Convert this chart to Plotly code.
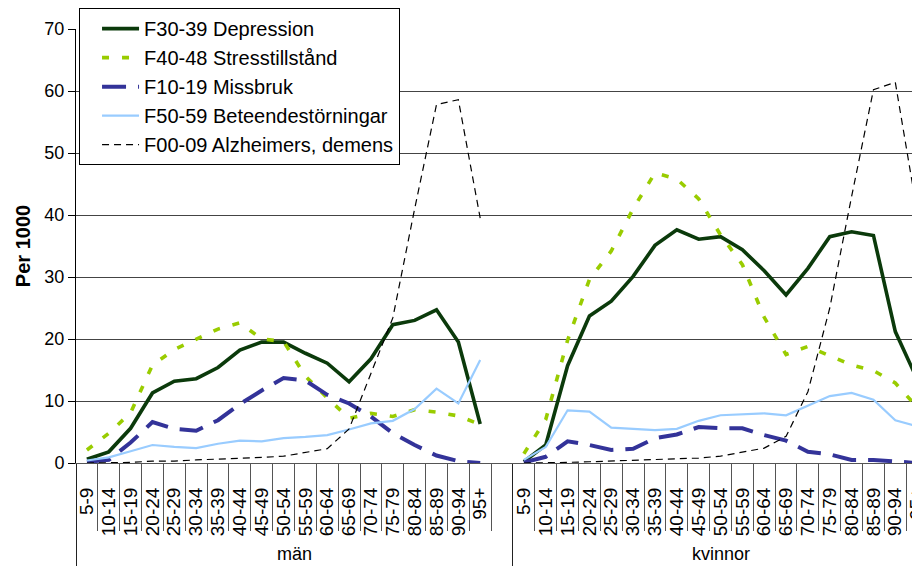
import plotly.graph_objects as go

age_groups = ["5-9", "10-14", "15-19", "20-24", "25-29", "30-34", "35-39", "40-44",
              "45-49", "50-54", "55-59", "60-64", "65-69", "70-74", "75-79", "80-84",
              "85-89", "90-94", "95+"]
sex_groups = ["män", "kvinnor"]

series_names = ["F30-39 Depression", "F40-48 Stresstillstånd", "F10-19 Missbruk",
                "F50-59 Beteendestörningar", "F00-09 Alzheimers, demens"]

men_depression = [0.6, 1.8, 5.6, 11.3, 13.2, 13.6, 15.4, 18.2, 19.5, 19.5, 17.7, 16.1,
                  13.1, 16.8, 22.3, 23.0, 24.7, 19.5, 6.3]
women_depression = [0.2, 2.9, 15.7, 23.7, 26.1, 30.1, 35.1, 37.6, 36.1, 36.5, 34.4, 31.0,
                    27.1, 31.4, 36.5, 37.3, 36.7, 21.2, 13.5]

men_stress = [2.1, 4.8, 8.1, 15.8, 18.3, 20.0, 21.6, 22.6, 20.0, 19.6, 14.0, 10.5,
              7.2, 8.0, 7.5, 8.6, 8.2, 7.6, 6.2]
women_stress = [1.5, 7.0, 19.8, 29.6, 34.2, 41.0, 46.8, 45.8, 42.6, 36.8, 32.0, 23.5,
                17.5, 18.8, 17.3, 15.8, 14.9, 12.9, 9.0]

men_missbruk = [0.2, 0.5, 3.3, 6.6, 5.5, 5.2, 6.9, 9.5, 11.7, 13.7, 13.3, 11.0,
                9.6, 7.5, 4.8, 2.9, 1.2, 0.3, 0.0]
women_missbruk = [0.1, 1.0, 3.5, 2.9, 2.1, 2.3, 4.0, 4.6, 5.8, 5.6, 5.6, 4.5,
                  3.6, 1.8, 1.4, 0.5, 0.5, 0.2, 0.0]

men_beteende = [0.4, 0.9, 1.9, 2.9, 2.6, 2.4, 3.1, 3.6, 3.5, 4.0, 4.2, 4.5,
                5.4, 6.4, 6.8, 8.7, 12.0, 9.6, 16.6]
women_beteende = [0.5, 2.6, 8.5, 8.3, 5.7, 5.5, 5.3, 5.5, 6.8, 7.7, 7.9, 8.0,
                  7.7, 9.2, 10.8, 11.3, 10.2, 6.9, 5.9]

men_alzheimer = [0.0, 0.05, 0.1, 0.3, 0.3, 0.5, 0.6, 0.8, 0.9, 1.1, 1.7, 2.3,
                 5.5, 14.5, 23.4, 41.0, 57.8, 58.6, 39.5]
women_alzheimer = [0.0, 0.0, 0.1, 0.2, 0.3, 0.4, 0.5, 0.6, 0.8, 1.1, 1.7, 2.4,
                   4.3, 11.5, 25.0, 43.0, 60.2, 61.4, 40.5]

# ---- build x positions: men slots, one empty slot, women slots ----
n = len(age_groups)
men_x = list(range(n))
women_x = [n + 1 + i for i in range(n)]
x_all = men_x + [n] + women_x
tick_vals = men_x + women_x
tick_text = age_groups + age_groups
boundaries = [v - 0.5 for v in range(2 * n + 2)]
group_bounds = [-0.5, n + 0.5]
x_max = 38.13

def joined(m, w):
    return m + [None] + w

styles = [
    dict(color="#0b3a0b", width=3.6, dash="solid"),
    dict(color="#99cc00", width=3.6, dash="7px,13px"),
    dict(color="#333399", width=4.0, dash="24px,12px"),
    dict(color="#99ccff", width=2.2, dash="solid"),
    dict(color="#000000", width=1.2, dash="7px,5px"),
]
values = [
    joined(men_depression, women_depression),
    joined(men_stress, women_stress),
    joined(men_missbruk, women_missbruk),
    joined(men_beteende, women_beteende),
    joined(men_alzheimer, women_alzheimer),
]

fig = go.Figure()
for i, (name, vals, st) in enumerate(zip(series_names, values, styles)):
    fig.add_trace(go.Scatter(
        x=x_all, y=vals, name=name, mode="lines", line=st,
        connectgaps=False, legendgroup=f"g{i}", hoverinfo="skip",
    ))

# invisible helpers so the overlay axes render
fig.add_trace(go.Scatter(x=[0], y=[None], xaxis="x2", showlegend=False, hoverinfo="skip"))
fig.add_trace(go.Scatter(x=[0], y=[None], xaxis="x3", showlegend=False, hoverinfo="skip"))

font_family = "Liberation Sans, Arial, sans-serif"

# page body has an 8px margin, so the figure is sized to fill the rest of the window
fig.update_layout(
    width=912, height=558,
    margin=dict(l=68, r=0, t=21, b=103, autoexpand=False),
    plot_bgcolor="white", paper_bgcolor="white",
    font=dict(family=font_family, color="black"),
    showlegend=True,
    legend=dict(
        x=0.0036, y=1.048, xanchor="left", yanchor="top",
        bgcolor="white", bordercolor="black", borderwidth=1,
        font=dict(size=20, family=font_family, color="black"),
        traceorder="grouped", tracegroupgap=0,
        indentation=17, itemwidth=37,
    ),
    xaxis=dict(
        range=[-0.5, x_max], tickmode="array", tickvals=tick_vals, ticktext=tick_text,
        tickangle=-90, ticks="", ticklabelstandoff=16, ticklabeloverflow="allow",
        tickfont=dict(size=19), showgrid=False, zeroline=False,
        showline=True, linecolor="#555555", linewidth=1,
    ),
    xaxis2=dict(
        overlaying="x", anchor="y", range=[-0.5, x_max], tickmode="array",
        tickvals=boundaries, ticks="outside", ticklen=67, tickcolor="#555555",
        tickwidth=1, showticklabels=False, showgrid=False, zeroline=False, showline=False,
    ),
    xaxis3=dict(
        overlaying="x", anchor="y", range=[-0.5, x_max], tickmode="array",
        tickvals=group_bounds, ticks="outside", ticklen=103, tickcolor="#222222",
        tickwidth=1, showticklabels=False, showgrid=False, zeroline=False, showline=False,
    ),
    yaxis=dict(
        range=[0, 70], dtick=10, tick0=0, showgrid=True, gridcolor="#444444", gridwidth=1,
        zeroline=False, showline=True, linecolor="black", linewidth=1,
        ticks="outside", ticklen=7, tickcolor="black", tickfont=dict(size=18),
        title=dict(text="<b>Per 1000</b>", font=dict(size=20), standoff=8),
    ),
)

for gname, xc in zip(sex_groups, [(group_bounds[0] + group_bounds[1]) / 2,
                                   (group_bounds[1] + 2 * n + 0.5) / 2]):
    fig.add_annotation(x=xc, y=-0.21, xref="x", yref="paper", text=gname,
                       showarrow=False, yanchor="middle", font=dict(size=18))

fig.write_html("out.html")
